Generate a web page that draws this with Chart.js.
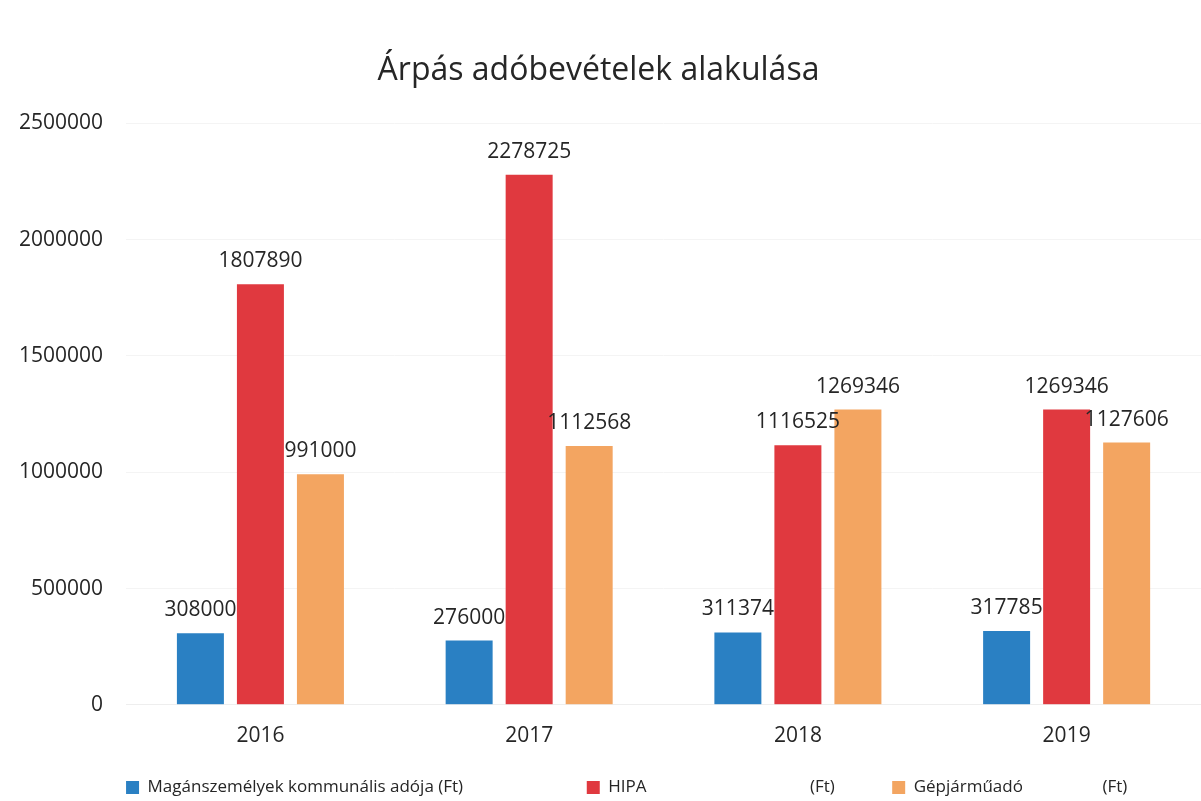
<!DOCTYPE html>
<html>
<head>
<meta charset="utf-8">
<script src="https://cdn.jsdelivr.net/npm/chart.js@4/dist/chart.umd.min.js"></script>
<style>
  html, body { margin: 0; padding: 0; background: #fff; }
  #wrap { width: 1201px; height: 801px; }
</style>
</head>
<body>
<div id="wrap"><canvas id="chart" width="1201" height="801"></canvas></div>
<script>
"use strict";

const years = ["2016", "2017", "2018", "2019"];
const kommunalis = [308000, 276000, 311374, 317785];
const hipa = [1807890, 2278725, 1116525, 1269346];
const gepjarmu = [991000, 1112568, 1269346, 1127606];
const yTicks = [0, 500000, 1000000, 1500000, 2000000, 2500000];

// the original legend is spaced out with blanks, keep them
const legendTexts = [
	"Magánszemélyek kommunális adója (Ft)" + " ".repeat(28),
	"HIPA" + " ".repeat(37) + "(Ft)" + " ".repeat(13),
	"Gépjárműadó" + " ".repeat(18) + "(Ft)"
];

const COLORS = { blue: "#2a80c3", red: "#e0393f", orange: "#f3a561" };
const FONT = "'Open Sans', 'Noto Sans', sans-serif";
const TEXT = "#262626";

// numbers above each bar
const valueLabels = {
	id: "valueLabels",
	afterDatasetsDraw: function (chart) {
		const ctx = chart.ctx;
		ctx.save();
		ctx.font = "21px " + FONT;
		ctx.fillStyle = TEXT;
		ctx.textAlign = "center";
		ctx.textBaseline = "alphabetic";
		chart.data.datasets.forEach(function (ds, i) {
			chart.getDatasetMeta(i).data.forEach(function (bar, j) {
				ctx.fillText(String(ds.data[j]), bar.x, bar.y - 17);
			});
		});
		ctx.restore();
	}
};

new Chart(document.getElementById("chart"), {
	type: "bar",
	data: {
		labels: years,
		datasets: [
			{ label: legendTexts[0], data: kommunalis, backgroundColor: COLORS.blue },
			{ label: legendTexts[1], data: hipa, backgroundColor: COLORS.red },
			{ label: legendTexts[2], data: gepjarmu, backgroundColor: COLORS.orange }
		]
	},
	options: {
		responsive: false,
		animation: false,
		devicePixelRatio: 1,
		layout: { padding: { left: -4, right: 0, top: 52, bottom: -5 } },
		datasets: { bar: { categoryPercentage: 0.67, barPercentage: 0.783 } },
		plugins: {
			title: {
				display: true,
				text: "Árpás adóbevételek alakulása",
				color: TEXT,
				font: { family: FONT, size: 32, weight: "normal" },
				padding: { top: 0, bottom: 33 }
			},
			legend: {
				position: "bottom",
				align: "start",
				fullSize: false,
				labels: {
					color: TEXT,
					font: { family: FONT, size: 17 },
					boxWidth: 13,
					boxHeight: 13,
					padding: 0
				}
			},
			tooltip: { enabled: false }
		},
		scales: {
			x: {
				grid: { display: false },
				border: { display: true, color: "#eeeeee" },
				ticks: { color: TEXT, font: { family: FONT, size: 21 }, padding: 11 },
				afterFit: function (scale) { scale.height += 19; }
			},
			y: {
				min: yTicks[0],
				max: yTicks[yTicks.length - 1],
				afterBuildTicks: function (scale) {
					scale.ticks = yTicks.map(function (v) { return { value: v }; });
				},
				ticks: {
					color: TEXT,
					font: { family: FONT, size: 21 },
					padding: 23,
					callback: function (v) { return String(v); }
				},
				grid: { color: "#f4f4f4", drawTicks: false },
				border: { display: false }
			}
		}
	},
	plugins: [valueLabels]
});
</script>
</body>
</html>
